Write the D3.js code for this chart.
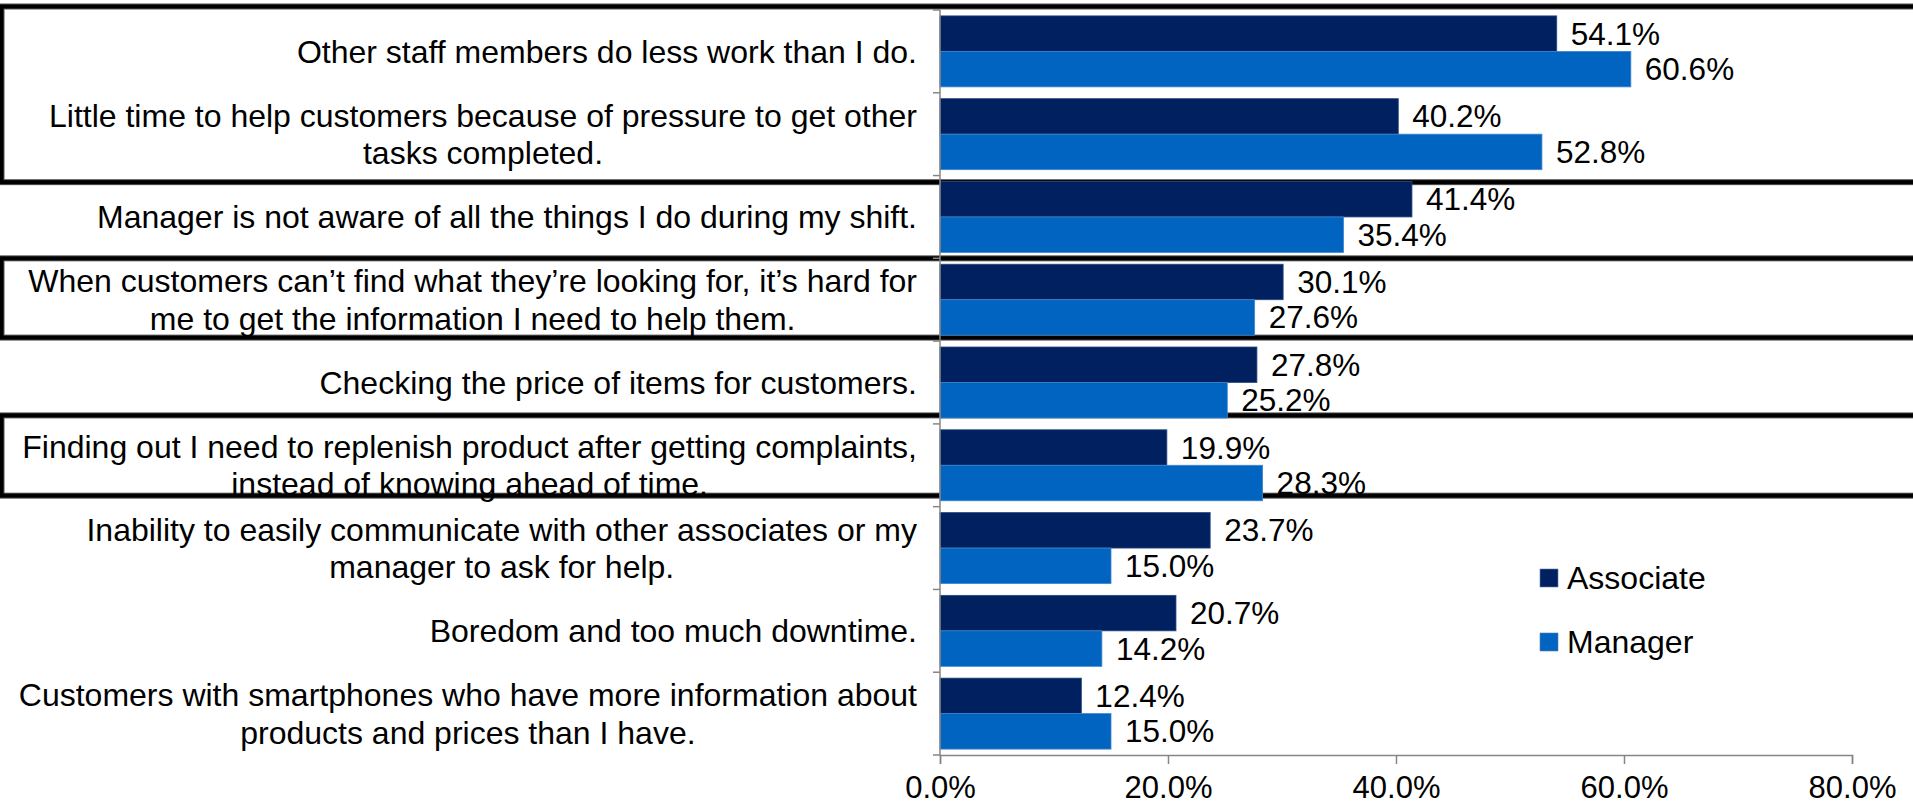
<!DOCTYPE html>
<html>
<head>
<meta charset="utf-8">
<script src="https://cdn.jsdelivr.net/npm/d3@7"></script>
<style>
  html, body { margin: 0; padding: 0; background: #fff; }
  svg { display: block; font-family: "Liberation Sans", Arial, sans-serif; }
</style>
</head>
<body>
<svg id="chart" width="1913" height="808"></svg>
<script>
// Survey responses: share of associates and managers citing each frustration
const categories = [
  ["Other staff members do less work than I do."],
  ["Little time to help customers because of pressure to get other", "tasks completed."],
  ["Manager is not aware of all the things I do during my shift."],
  ["When customers can\u2019t find what they\u2019re looking for, it\u2019s hard for", "me to get the information I need to help them."],
  ["Checking the price of items for customers."],
  ["Finding out I need to replenish product after getting complaints,", "instead of knowing ahead of time."],
  ["Inability to easily communicate with other associates or my", "manager to ask for help."],
  ["Boredom and too much downtime."],
  ["Customers with smartphones who have more information about", "products and prices than I have."]
];
const seriesNames = ["Associate", "Manager"];
const associate = [54.1, 40.2, 41.4, 30.1, 27.8, 19.9, 23.7, 20.7, 12.4];
const manager = [60.6, 52.8, 35.4, 27.6, 25.2, 28.3, 15.0, 14.2, 15.0];
const xTicks = [0, 20, 40, 60, 80];
// highlighted groups of categories (first index, last index)
const highlights = [[0, 1], [3, 3], [5, 5]];

const colors = { Associate: "#002060", Manager: "#0064C0" };
const W = 1913, H = 808;
const plot = { left: 940, right: 1852, top: 10, bottom: 755 };
const labelFont = 32;
const valueFont = 31.5;

const svg = d3.select("#chart");

const ids = categories.map((c, i) => i);
const y = d3.scaleBand().domain(ids).range([plot.top, plot.bottom]).paddingInner(0).paddingOuter(0);
const ySub = d3.scaleBand().domain(seriesNames).range([0, y.bandwidth()]).paddingInner(0).paddingOuter(0.166);
const x = d3.scaleLinear().domain([0, 80]).range([plot.left, plot.right]);

const rows = ids.map(i => ({ i, values: [
  { name: "Associate", v: associate[i] },
  { name: "Manager", v: manager[i] }
]}));

// highlight frames behind the bars
const frames = svg.append("g").attr("class", "frames");
const frameOffsets = [[-3.5, 6.6], [0, -3.5], [-8.5, -11]];
highlights.forEach(([a, b], k) => {
  const top = y(a) + frameOffsets[k][0];
  const bottom = y(b) + y.bandwidth() + frameOffsets[k][1];
  frames.append("rect")
    .attr("x", 1.5).attr("y", top)
    .attr("width", W + 20).attr("height", bottom - top)
    .attr("fill", "none").attr("stroke", "#555").attr("stroke-width", 6);
  frames.append("rect")
    .attr("x", 1.5).attr("y", top)
    .attr("width", W + 20).attr("height", bottom - top)
    .attr("fill", "none").attr("stroke", "#000").attr("stroke-width", 4);
});

// category labels, right aligned block with centered lines
const labelRight = 917;
const lineGap = 37.5;
const labels = svg.append("g").attr("class", "cat-labels")
  .attr("font-size", labelFont).attr("fill", "#000");
categories.forEach((lines, i) => {
  const cy = y(i) + y.bandwidth() / 2;
  const g = labels.append("g");
  const texts = lines.map((ln, j) => g.append("text")
    .attr("y", cy + (j - (lines.length - 1) / 2) * lineGap)
    .attr("dy", "0.35em")
    .text(ln));
  const widths = texts.map(t => t.node().getComputedTextLength());
  const maxW = d3.max(widths);
  const center = labelRight - maxW / 2;
  texts.forEach(t => t.attr("x", center).attr("text-anchor", "middle"));
});

// bars
const groups = svg.append("g").attr("class", "bars")
  .selectAll("g").data(rows).join("g")
  .attr("transform", d => `translate(0,${y(d.i)})`);
groups.selectAll("rect").data(d => d.values).join("rect")
  .attr("x", x(0))
  .attr("y", d => ySub(d.name))
  .attr("width", d => x(d.v) - x(0))
  .attr("height", ySub.bandwidth())
  .attr("fill", d => colors[d.name])
  .attr("stroke", d => d.name === "Associate" ? "#2a4a80" : "#3f86cf")
  .attr("stroke-width", 0.8);
groups.selectAll("text").data(d => d.values).join("text")
  .attr("x", d => x(d.v) + 14)
  .attr("y", d => ySub(d.name) + ySub.bandwidth() / 2)
  .attr("dy", "0.35em")
  .attr("font-size", valueFont)
  .attr("fill", "#000")
  .text(d => d.v.toFixed(1) + "%");

// y axis with ticks on category boundaries
const axisColor = "#868686";
const yAxis = svg.append("g").attr("class", "y-axis");
yAxis.append("line")
  .attr("x1", x(0)).attr("x2", x(0))
  .attr("y1", plot.top).attr("y2", plot.bottom)
  .attr("stroke", axisColor).attr("stroke-width", 1.5);
yAxis.selectAll("line.tick").data(ids.concat([categories.length]))
  .join("line").attr("class", "tick")
  .attr("x1", x(0) - 7).attr("x2", x(0))
  .attr("y1", d => d < categories.length ? y(d) : plot.bottom)
  .attr("y2", d => d < categories.length ? y(d) : plot.bottom)
  .attr("stroke", axisColor).attr("stroke-width", 1.5);

// x axis
const xAxis = svg.append("g").attr("class", "x-axis")
  .attr("transform", `translate(0,${plot.bottom})`)
  .call(d3.axisBottom(x).tickValues(xTicks).tickSize(9).tickPadding(12)
    .tickFormat(d => d.toFixed(1) + "%"));
xAxis.select(".domain").attr("stroke", axisColor).attr("stroke-width", 1.5);
xAxis.selectAll(".tick line").attr("stroke", axisColor).attr("stroke-width", 1.5);
xAxis.selectAll(".tick text")
  .attr("font-size", 31).attr("fill", "#000")
  .attr("font-family", "\"Liberation Sans\", Arial, sans-serif");

// legend
const legend = svg.append("g").attr("class", "legend")
  .attr("transform", "translate(1540,569)");
const li = legend.selectAll("g").data(seriesNames).join("g")
  .attr("transform", (d, i) => `translate(0,${i * 64})`);
li.append("rect").attr("width", 18).attr("height", 18)
  .attr("fill", d => colors[d]).attr("stroke", "#5a7fb0").attr("stroke-width", 0.6);
li.append("text").attr("x", 27).attr("y", 9).attr("dy", "0.35em")
  .attr("font-size", labelFont).attr("fill", "#000").text(d => d);
</script>
</body>
</html>
